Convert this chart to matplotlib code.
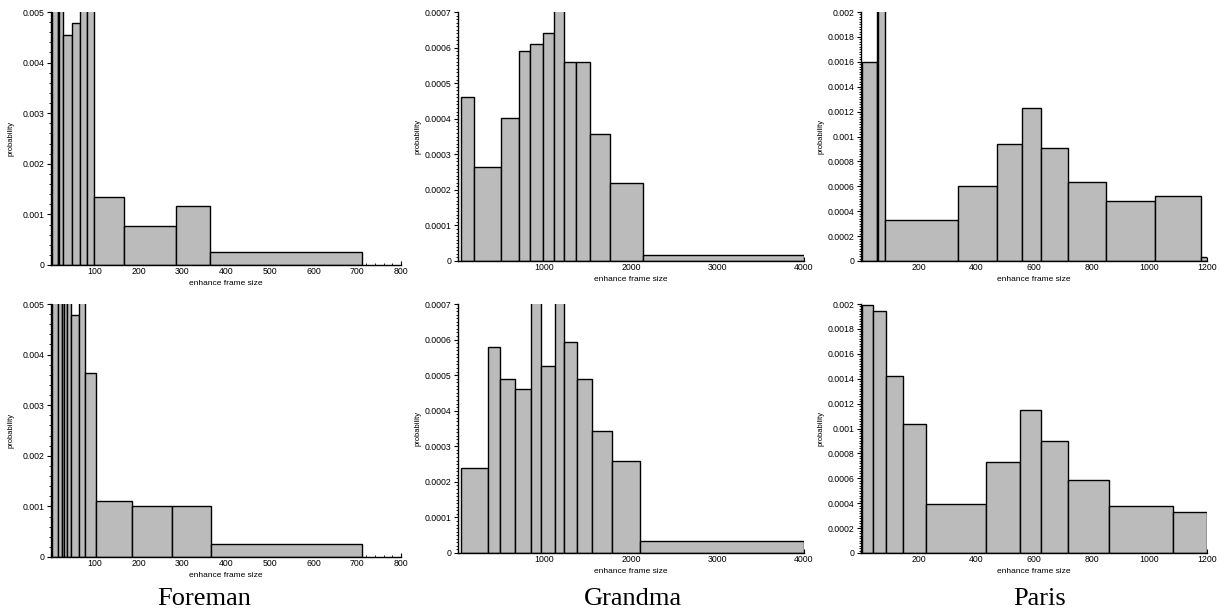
import matplotlib
matplotlib.use('Agg')
import matplotlib.pyplot as plt
from matplotlib.ticker import MultipleLocator, FormatStrFormatter, FuncFormatter
import numpy as np

plt.rcParams.update({
    'font.family': 'sans-serif',
    'font.sans-serif': ['Liberation Sans', 'DejaVu Sans'],
    'axes.unicode_minus': False,
})

BAR_FILL = '#bbbbbb'

# Foreman (top / bottom) -- bin edges and probabilities; bars above ylim are clipped
foreman_top_edges = [2, 15, 19, 28, 47, 66, 82, 99, 166, 286, 363, 711]
foreman_top_probs = [0.0072, 0.0068, 0.0061, 0.00455, 0.00478, 0.0057, 0.0060, 0.00135, 0.00077, 0.00116, 0.00026]
foreman_bot_edges = [2, 17, 24, 30, 36, 45, 63, 78, 103, 186, 276, 365, 710]
foreman_bot_probs = [0.0075, 0.0066, 0.0070, 0.0063, 0.0058, 0.00478, 0.0056, 0.00364, 0.00111, 0.00100, 0.00101, 0.00026]

# Grandma
grandma_top_edges = [30, 181, 494, 707, 838, 985, 1112, 1224, 1363, 1529, 1761, 2135, 4000]
grandma_top_probs = [0.00046, 0.000265, 0.000403, 0.00059, 0.00061, 0.00064, 0.00078, 0.00056, 0.00056, 0.000356, 0.00022, 0.000018]
grandma_bot_edges = [30, 347, 490, 664, 842, 958, 1120, 1224, 1371, 1544, 1784, 2108, 4000]
grandma_bot_probs = [0.00024, 0.000578, 0.00049, 0.000462, 0.00075, 0.000525, 0.00082, 0.000593, 0.00049, 0.000342, 0.000258, 0.000034]

# Paris
paris_top_edges = [5, 54, 60, 83, 335, 471, 559, 626, 718, 848, 1018, 1178, 1200]
paris_top_probs = [0.0016, 0.0031, 0.0024, 0.000332, 0.000602, 0.000939, 0.00123, 0.000904, 0.000636, 0.000481, 0.000519, 0.00003]
paris_bot_edges = [3, 43, 85, 145, 225, 435, 550, 625, 718, 859, 1082, 1200]
paris_bot_probs = [0.00199, 0.00194, 0.00142, 0.001035, 0.000393, 0.000727, 0.00115, 0.000896, 0.000583, 0.000374, 0.000326]

titles = ['Foreman', 'Grandma', 'Paris']


def fmt_y(v, pos):
    if abs(v) < 1e-12:
        return '0'
    return ('%.4f' % v).rstrip('0')


def draw_hist(ax, edges, probs, xlim, ylim, xmajor, xminor, ymajor, yminor):
    edges = np.asarray(edges, dtype=float)
    ax.bar(edges[:-1], probs, width=np.diff(edges), align='edge',
           color=BAR_FILL, edgecolor='black', linewidth=1.0, zorder=2)
    ax.set_xlim(*xlim)
    ax.set_ylim(*ylim)
    for s in ['top', 'right']:
        ax.spines[s].set_visible(False)
    for s in ['left', 'bottom']:
        ax.spines[s].set_linewidth(1.0)
        ax.spines[s].set_zorder(3)
    ax.xaxis.set_major_locator(MultipleLocator(xmajor))
    ax.xaxis.set_minor_locator(MultipleLocator(xminor))
    ax.yaxis.set_major_locator(MultipleLocator(ymajor))
    ax.yaxis.set_minor_locator(MultipleLocator(yminor))
    ax.xaxis.set_major_formatter(FuncFormatter(lambda v, p: '' if v == 0 else '%d' % v))
    ax.yaxis.set_major_formatter(FuncFormatter(fmt_y))
    ax.tick_params(axis='x', which='major', direction='in', length=3, width=0.8, pad=1.5, labelsize=6.3)
    ax.tick_params(axis='x', which='minor', direction='in', length=1.5, width=0.6)
    ax.tick_params(axis='y', which='major', direction='out', length=3, width=0.8, pad=1.5, labelsize=6.3)
    ax.tick_params(axis='y', which='minor', direction='out', length=1.5, width=0.6)
    ax.set_xlabel('enhance frame size', fontsize=6, labelpad=3)
    ax.set_ylabel('probability', fontsize=5.5)
    ax.yaxis.set_label_coords(-0.105, 0.5)


fig = plt.figure(figsize=(12.21, 6.10), dpi=100)

W = 1221.0
H = 610.0


def add_axes(x0, x1, ytop, ybot):
    return fig.add_axes([x0 / W, 1 - ybot / H, (x1 - x0) / W, (ybot - ytop) / H])


ax = add_axes(51, 401, 12, 265)
draw_hist(ax, foreman_top_edges, foreman_top_probs, (0, 800), (0, 0.005), 100, 20, 0.001, 0.0002)
ax = add_axes(51, 401, 304, 557)
draw_hist(ax, foreman_bot_edges, foreman_bot_probs, (0, 800), (0, 0.005), 100, 20, 0.001, 0.0002)

ax = add_axes(458, 804, 12, 261)
draw_hist(ax, grandma_top_edges, grandma_top_probs, (0, 4000), (0, 0.0007), 1000, 200, 0.0001, 0.00001)
ax = add_axes(458, 804, 304, 553)
draw_hist(ax, grandma_bot_edges, grandma_bot_probs, (0, 4000), (0, 0.0007), 1000, 200, 0.0001, 0.00001)

ax = add_axes(861, 1207, 12, 261)
draw_hist(ax, paris_top_edges, paris_top_probs, (0, 1200), (0, 0.002), 200, 50, 0.0002, 0.00002)
ax = add_axes(861, 1207, 304, 553)
draw_hist(ax, paris_bot_edges, paris_bot_probs, (0, 1200), (0, 0.002), 200, 50, 0.0002, 0.00002)

for cx, name in zip([204, 633, 1040], titles):
    fig.text(cx / W, 1 - 605 / H, name, fontsize=19, family='Liberation Serif',
             ha='center', va='baseline')

fig.savefig('out.png', dpi=100)
